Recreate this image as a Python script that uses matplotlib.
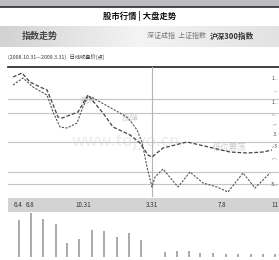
import matplotlib
matplotlib.use("Agg")
import matplotlib.pyplot as plt
import numpy as np

plt.rcParams['font.family'] = ['Noto Sans CJK SC', 'DejaVu Sans']

# ---------------------------------------------------------------
# donnees (x = jour de cotation, y = indice relatif)

jours_a = [5, 14, 22, 32, 39, 44, 50, 54, 62, 70, 80, 84, 95, 105, 122, 132, 140, 144, 155, 179, 192, 222, 239, 255, 264]
indice_a = [120, 124, 115, 110, 107, 95, 80, 79, 82, 85, 102, 97, 84, 70, 62, 54, 42, 40, 49, 55, 52, 45, 44, 45, 47]

jours_b = [5, 15, 25, 39, 45, 52, 59, 69, 75, 80, 85, 112, 120, 124, 129, 134, 139, 144, 147, 155, 170, 182, 195, 209, 220, 235, 247, 262]
indice_b = [112, 119, 110, 102, 85, 70, 69, 74, 90, 101, 99, 84, 79, 74, 67, 55, 30, 10, 20, 28, 10, 25, 14, 10, 5, 24, 9, 24]

grille = [98, 84, 55, 25, 13]

dates = ['6.4', '6.8', '10.31', '3.31', '7.8', '11']
pos_dates = [10, 22, 75, 144, 214, 267]

pos_volume = [11, 23, 35, 48, 59, 71, 84, 96, 109, 121, 133, 157, 169, 181, 192, 205, 218, 230, 243, 255, 267]
volume = [37, 45, 38, 33, 14, 18, 27, 26, 20, 24, 17, 5, 6, 6, 4, 4, 3, 3, 3, 3, 3]

etiquettes_droite = ['1...', '...', '1...', '.-..', '.--', '.3.', '.-3', '.--.', '.5..']
val_droite = [118, 107, 95, 82, 72, 62, 50, 38, 12]

# ---------------------------------------------------------------

W, H = 279, 260
fig = plt.figure(figsize=(W / 100, H / 100), dpi=100)
fig.patch.set_facecolor('white')


def boite(x0, y0, x1, y1):
    # coordonnees pixel (origine en haut a gauche) -> fraction figure
    return [x0 / W, 1 - y1 / H, (x1 - x0) / W, (y1 - y0) / H]


# bandeau du haut
bg = fig.add_axes([0, 0, 1, 1])
bg.set_xlim(0, W)
bg.set_ylim(H, 0)
bg.axis('off')
bg.add_patch(plt.Rectangle((0, 0), W, 6.5, color='#bcbcc0', lw=0))
bg.plot([0, W], [7, 7], color='#2a2a2a', lw=1.2)

bg.text(140, 16, '股市行情 | 大盘走势', ha='center', va='center', fontsize=6, fontweight='bold', color='#111111')

# bande degradee
grad = np.linspace(0, 1, 256).reshape(1, -1)
bg.imshow(grad, extent=(0, W, 47, 26), cmap=matplotlib.colors.LinearSegmentedColormap.from_list('g', ['#d2d2d2', '#f4f4f4', '#e2e2e2']), aspect='auto', zorder=0)
bg.text(22, 36, '指数走势', ha='left', va='center', fontsize=6.5, fontweight='bold', color='#444444')
bg.text(147, 36, '深证成指  上证指数', ha='left', va='center', fontsize=5, color='#777777')
bg.text(210, 36, '沪深300指数', ha='left', va='center', fontsize=5.5, color='#333333', fontweight='bold')
bg.text(8, 57, '(2008.10.31—2009.3.31)   日线收盘价(点)', ha='left', va='center', fontsize=3.8, color='#333333')
bg.plot([8, W], [67, 67], color='#333333', lw=1.3)

# bande des dates
bg.add_patch(plt.Rectangle((8, 198), W - 8, 14, color='#d3d3d3', lw=0))

# ---------------------------------------------------------------
# graphique principal

ax = fig.add_axes(boite(8, 67, W, 197))
ax.set_xlim(0, W - 8)
ax.set_ylim(0, 130)
ax.axis('off')
ax.patch.set_alpha(0)

for g in grille:
    ax.axhline(g, color='#c4c4c4', lw=0.8, zorder=1)
ax.axvline(144, color='#b5b5b5', lw=0.8, zorder=1)

ax.text(118, 56, 'www.tdjyo.cn', ha='center', va='center', fontsize=12, color='#ececec', zorder=0)
ax.text(80, 97, '高点', ha='center', va='center', fontsize=6, color='#cfcfcf', zorder=0)
ax.text(122, 79, '反弹', ha='center', va='center', fontsize=6, color='#cfcfcf', zorder=0)
ax.text(222, 50, '低位震荡', ha='center', va='center', fontsize=6, color='#cfcfcf', zorder=0)

ax.plot(jours_a, indice_a, color='#444444', lw=0.9, ls=(0, (3, 1.5)), zorder=3)
ax.plot(jours_b, indice_b, color='#555555', lw=0.8, ls=(0, (2, 1.2)), zorder=3)

for v, t in zip(val_droite, etiquettes_droite):
    ax.text(W - 9, v, t, ha='right', va='center', fontsize=3.5, color='#333333')

for p, d in zip(pos_dates, dates):
    ax.text(p, -8, d, ha='center', va='center', fontsize=4.5, color='#333333', clip_on=False)

# ---------------------------------------------------------------
# volumes

axv = fig.add_axes(boite(8, 213, W, 257))
axv.set_xlim(0, W - 8)
axv.set_ylim(0, 44)
axv.axis('off')
axv.bar(pos_volume, volume, width=2.5, color='#ababab')

fig.savefig('out.png', dpi=100)
